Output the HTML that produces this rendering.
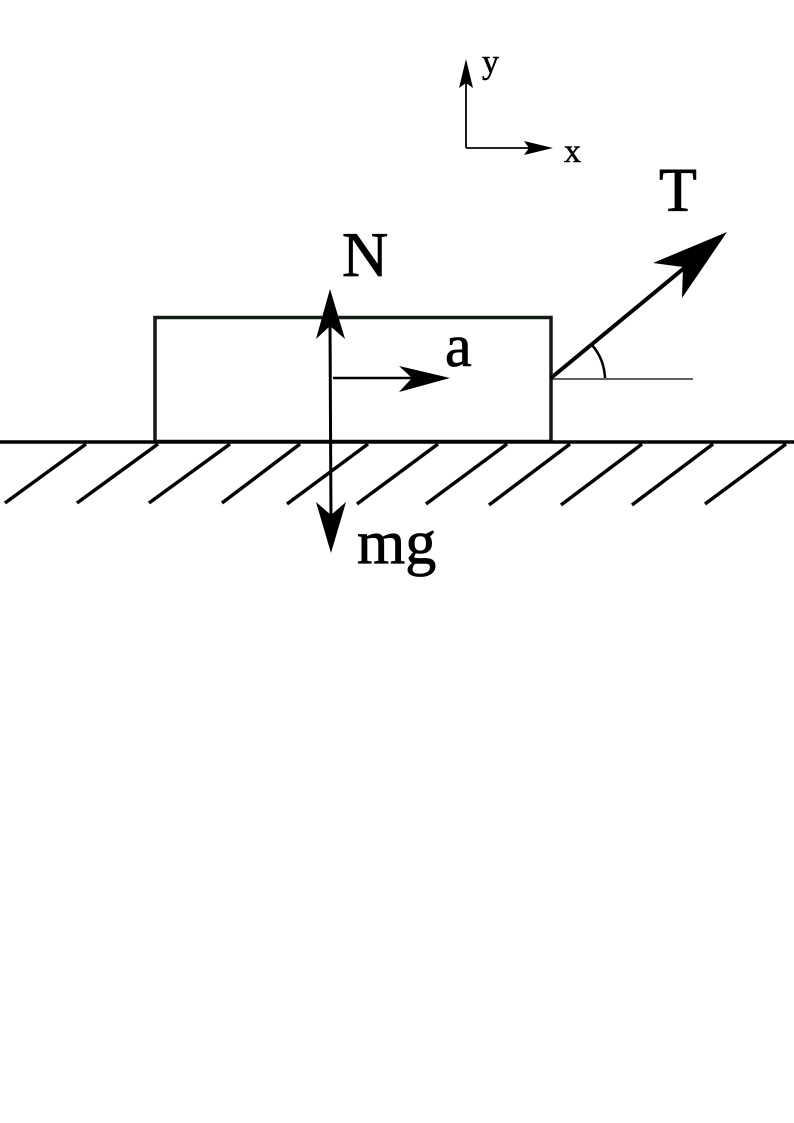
<!DOCTYPE html>
<html><head><style>html,body{margin:0;padding:0;background:#fff}svg{display:block}</style></head>
<body>
<svg width="794" height="1123" viewBox="0 0 794 1123" xmlns="http://www.w3.org/2000/svg" font-family="'Liberation Serif', serif">
<rect width="794" height="1123" fill="#fff"/>
<rect x="155" y="317.5" width="396" height="124" fill="none" stroke="#121c12" stroke-width="3.5"/>
<line x1="0" y1="442" x2="794" y2="442" stroke="#000" stroke-width="3.5"/>
<g stroke="#000" stroke-width="3.5">
<line x1="5" y1="503" x2="86" y2="444"/>
<line x1="77" y1="503" x2="158" y2="444"/>
<line x1="149" y1="503" x2="230" y2="444"/>
<line x1="222" y1="503" x2="300" y2="444"/>
<line x1="287" y1="504" x2="368" y2="444"/>
<line x1="357" y1="504" x2="438" y2="444"/>
<line x1="426" y1="504" x2="507" y2="444"/>
<line x1="489" y1="505" x2="570" y2="444"/>
<line x1="561" y1="505" x2="642" y2="444"/>
<line x1="632" y1="505" x2="713" y2="444"/>
<line x1="705" y1="504" x2="786" y2="444"/>
</g>
<line x1="330" y1="320" x2="331" y2="525" stroke="#000" stroke-width="3"/>
<polygon points="330,289 345,339 330,326 316,339" fill="#000"/>
<polygon points="331,553 316,502 331,515 346,502" fill="#000"/>
<line x1="333" y1="378" x2="430" y2="378" stroke="#000" stroke-width="2.5"/>
<polygon points="450,378 399,366 412,378 399,392" fill="#000"/>
<line x1="551" y1="378" x2="700" y2="255" stroke="#000" stroke-width="4"/>
<polygon points="727,232 653,263 683,267 682,298" fill="#000"/>
<line x1="551" y1="379" x2="693" y2="379" stroke="#000" stroke-width="1.2"/>
<path d="M 592,345 A 54 54 0 0 1 605,378" fill="none" stroke="#000" stroke-width="2.5"/>
<line x1="466" y1="75" x2="466" y2="148" stroke="#000" stroke-width="1.8"/>
<line x1="466" y1="148" x2="535" y2="148" stroke="#000" stroke-width="1.8"/>
<polygon points="466,59 473,88 466,83 459,88" fill="#000"/>
<polygon points="553,148 524,141 529,148 524,155" fill="#000"/>
<text x="482" y="73" font-size="34" stroke="#000" stroke-width="0.5">y</text>
<text x="564" y="162" font-size="34" stroke="#000" stroke-width="0.5">x</text>
<text x="342" y="276" font-size="64" stroke="#000" stroke-width="0.8">N</text>
<text x="659" y="211" font-size="62" stroke="#000" stroke-width="0.8">T</text>
<text x="445" y="366" font-size="60" stroke="#000" stroke-width="0.8">a</text>
<text x="357" y="563" font-size="62" stroke="#000" stroke-width="0.8">mg</text>
</svg>
</body></html>
